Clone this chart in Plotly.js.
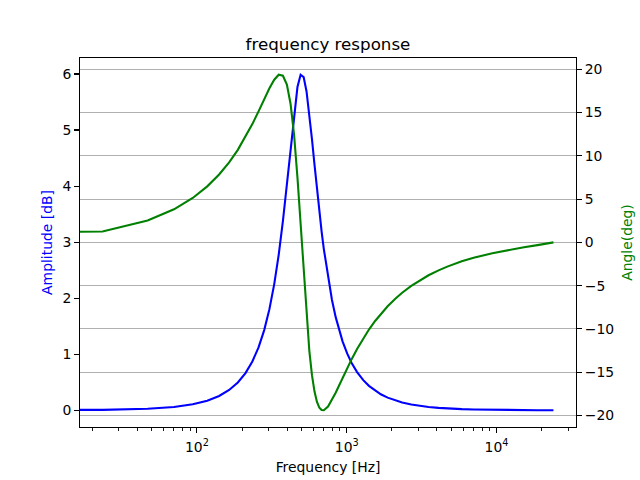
<!DOCTYPE html>
<html><head><meta charset="utf-8">
<script src="https://cdn.plot.ly/plotly-3.0.1.min.js"></script>
<style>html,body{margin:0;padding:0;background:#fff}#chart{width:640px;height:480px}</style>
</head><body><div id="chart"></div>
<script>
// Frequency samples (Hz) (linear FFT bins, first one at 0 Hz)
const freqHz = [0, 23.44, 46.88, 70.31, 93.75, 117.19, 140.63, 164.06, 187.5, 210.94,
  234.38, 257.81, 281.25, 304.69, 328.13, 351.56, 375, 398.44, 421.88, 445.31,
  468.75, 492.19, 515.63, 539.06, 562.5, 585.94, 609.38, 632.81, 656.25, 679.69,
  703.13, 750, 796.88, 843.75, 890.63, 937.5, 1007.81, 1078.13, 1171.88, 1289.06,
  1406.25, 1546.88, 1687.5, 1875, 2109.38, 2343.75, 2695.31, 3046.88, 3515.63, 4101.56,
  4687.5, 5859.38, 7031.25, 9375, 11718.75, 15234.38, 18750, 23976.56];

const amplitudeDb = [0, 0.006, 0.026, 0.059, 0.107, 0.171, 0.255, 0.362, 0.496, 0.663,
  0.869, 1.121, 1.430, 1.804, 2.251, 2.777, 3.378, 4.035, 4.703, 5.310,
  5.767, 5.986, 5.945, 5.688, 5.294, 4.839, 4.378, 3.941, 3.544, 3.189,
  2.876, 2.362, 1.967, 1.661, 1.421, 1.230, 1.009, 0.843, 0.680, 0.537,
  0.435, 0.348, 0.285, 0.225, 0.174, 0.138, 0.102, 0.079, 0.058, 0.042,
  0.031, 0.019, 0.013, 0.006, 0.003, 0.001, 0.0004, 0.0];

const angleDeg = [0, 1.26, 2.53, 3.82, 5.13, 6.47, 7.84, 9.25, 10.69, 12.17,
  13.66, 15.13, 16.54, 17.80, 18.79, 19.36, 19.25, 18.22, 15.98, 12.38,
  7.50, 1.90, -3.69, -8.62, -12.51, -15.34, -17.24, -18.43, -19.09, -19.37,
  -19.39, -18.96, -18.22, -17.37, -16.50, -15.67, -14.52, -13.49, -12.31, -11.08,
  -10.07, -9.08, -8.26, -7.38, -6.51, -5.82, -5.02, -4.41, -3.80, -3.23,
  -2.80, -2.19, -1.78, -1.25, -0.92, -0.57, -0.32, 0.0];

const xTickVals = [100, 1000, 10000];
const xTickText = ['10<sup>2</sup>', '10<sup>3</sup>', '10<sup>4</sup>'];
const titleText = 'frequency response';
const xLabel = 'Frequency [Hz]';
const y1Label = 'Amplitude [dB]';
const y2Label = 'Angle(deg)';

// matplotlib clips non-positive x on a log axis: the 0 Hz sample runs off the left edge
const xPlot = freqHz.map(f => f > 0 ? f : 1e-6);
function pad(lo, hi) { const s = hi - lo; return [lo - 0.05 * s, hi + 0.05 * s]; }
const posF = freqHz.filter(f => f > 0);
const xr = pad(Math.log10(Math.min(...posF)), Math.log10(Math.max(...posF)));
const y1r = pad(Math.min(...amplitudeDb), Math.max(...amplitudeDb));
const y2r = pad(Math.min(...angleDeg), Math.max(...angleDeg));

const minorVals = [];
for (let e = 1; e <= 4; e++) for (let m = 2; m <= 9; m++) minorVals.push(m * Math.pow(10, e));

const FONT = 'DejaVu Sans, Liberation Sans, sans-serif';
const fs = 13.9;

const traces = [
  { x: xPlot, y: amplitudeDb, type: 'scatter', mode: 'lines', yaxis: 'y',
    line: { color: '#0000ff', width: 2.08 }, hoverinfo: 'skip' },
  { x: xPlot, y: angleDeg, type: 'scatter', mode: 'lines', yaxis: 'y2',
    line: { color: '#008000', width: 2.08 }, hoverinfo: 'skip' }
];

const axisCommon = {
  ticks: 'outside', ticklen: 4.9, tickwidth: 1.1, tickcolor: '#000',
  showline: true, linecolor: '#000', linewidth: 1.1, zeroline: false,
  tickfont: { family: FONT, size: fs, color: '#000' }, automargin: false
};

const layout = {
  width: 640, height: 480,
  margin: { l: 80, r: 64, t: 58, b: 53 },
  paper_bgcolor: '#fff', plot_bgcolor: '#fff',
  showlegend: false,
  font: { family: FONT, size: fs, color: '#000' },
  title: { text: titleText, font: { family: FONT, size: 16.7, color: '#000' },
           xref: 'paper', x: 0.5, xanchor: 'center', yref: 'container', y: 1 - 44 / 480, yanchor: 'middle' },
  xaxis: Object.assign({}, axisCommon, {
    type: 'log', range: xr, tickmode: 'array', tickvals: xTickVals, ticktext: xTickText,
    mirror: true, showgrid: false, ticklabelstandoff: 2,
    minor: { tickmode: 'array', tickvals: minorVals, ticks: 'outside', ticklen: 2.8, tickwidth: 0.9, tickcolor: '#000', showgrid: false },
    title: { text: xLabel, font: { family: FONT, size: fs, color: '#000' }, standoff: 8 }
  }),
  yaxis: Object.assign({}, axisCommon, {
    range: y1r, tickmode: 'linear', tick0: 0, dtick: 1, showgrid: false,
    title: { text: y1Label, font: { family: FONT, size: fs, color: '#0000ff' }, standoff: 6 }
  }),
  yaxis2: Object.assign({}, axisCommon, {
    overlaying: 'y', side: 'right', range: y2r, tickmode: 'linear', tick0: 0, dtick: 5,
    showgrid: true, gridcolor: '#b0b0b0', gridwidth: 1.1,
    title: { text: y2Label, font: { family: FONT, size: fs, color: '#008000' }, standoff: 9 }
  })
};

Plotly.newPlot('chart', traces, layout, { staticPlot: true, displayModeBar: false });
</script>
</body></html>
